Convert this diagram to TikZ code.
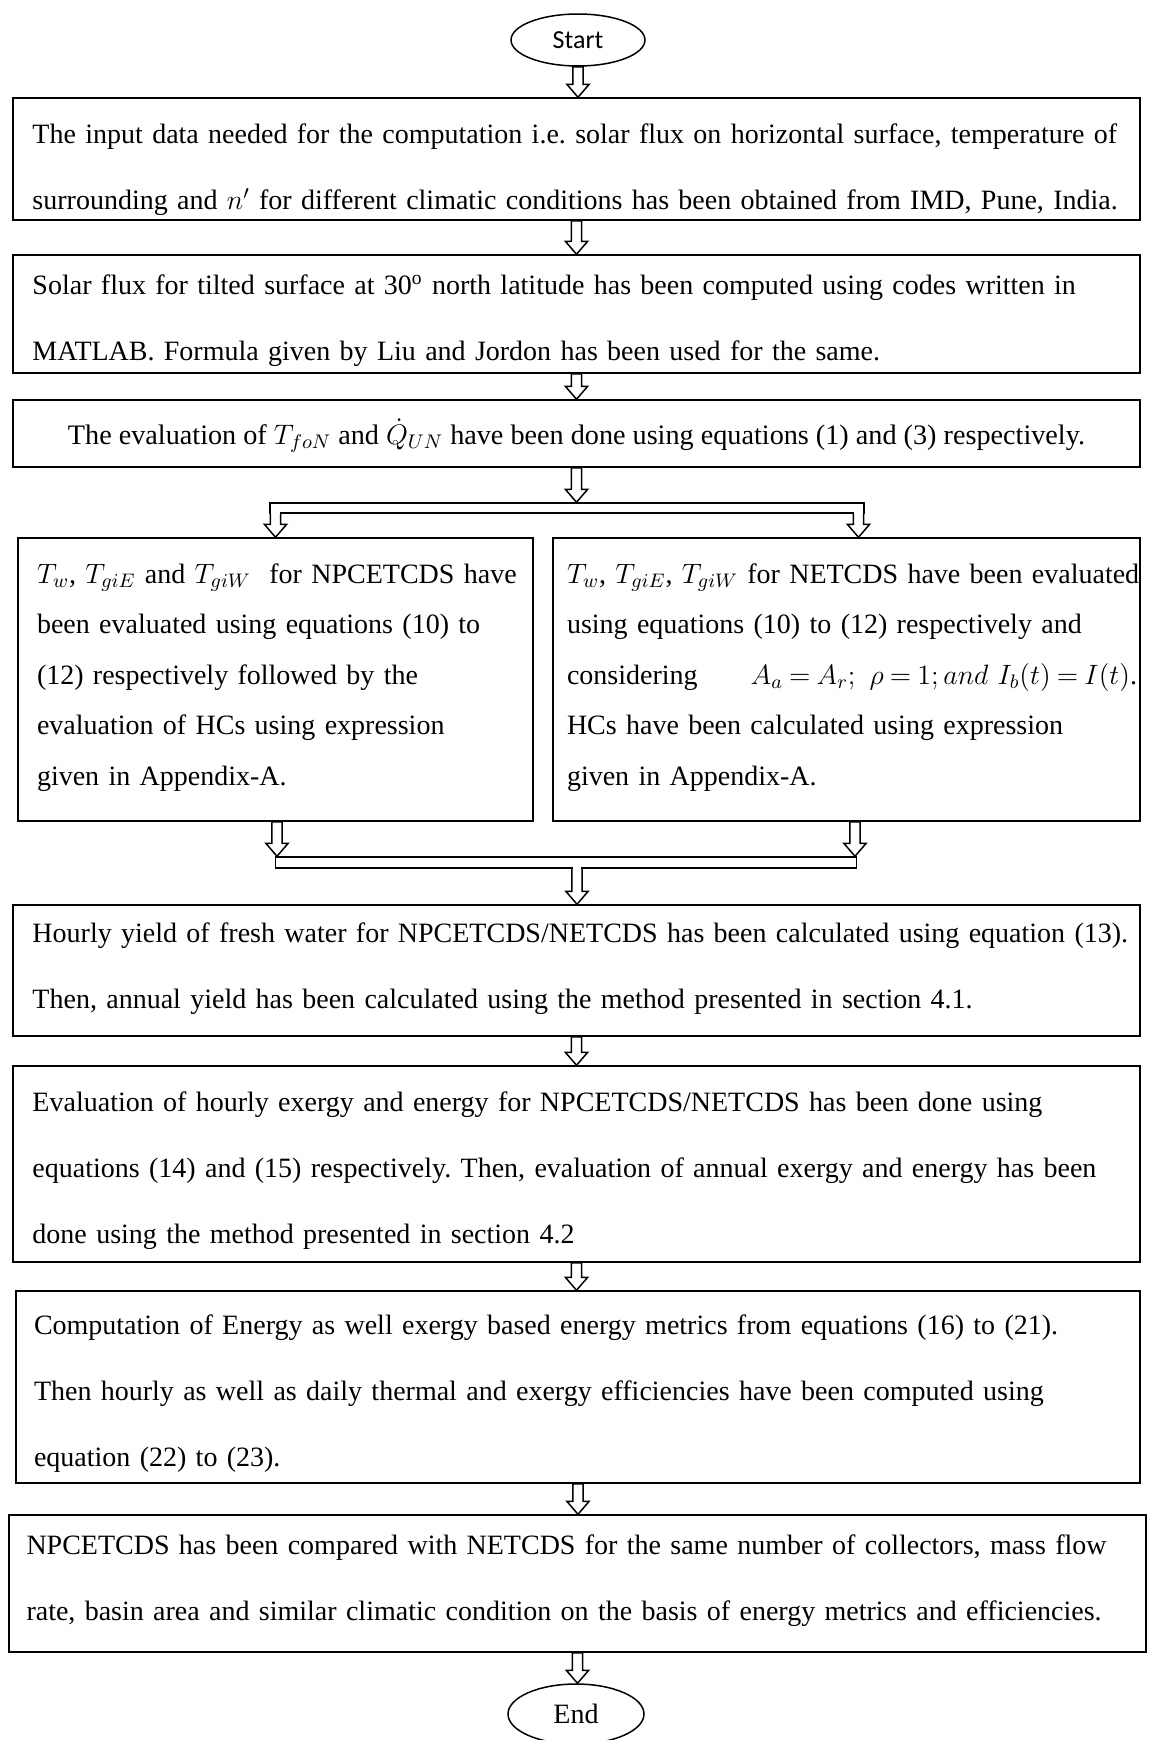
\RequirePackage{fix-cm}
\documentclass[tikz,border=0pt]{standalone}
\usepackage{fontspec}
\setmainfont{Liberation Serif}
\newfontfamily\startfont{Carlito}
\usetikzlibrary{shapes.geometric,calc}
\frenchspacing
\tikzset{
  frame/.style={draw, line width=0.75pt, fill=white, inner sep=0pt},
  txt/.style={inner sep=0pt, align=left, font=\fontsize{14}{33}\selectfont},
  sidetxt/.style={txt, font=\fontsize{14}{25.25}\selectfont},
  oval/.style={ellipse, draw, line width=0.75pt, inner sep=0pt, fill=white},
  arrline/.style={line width=0.75pt, line join=miter},
}
\newcommand\blockarr[2]{%
  \filldraw[arrline, fill=white] let \p1=(#1),\p2=(#2) in
    (\x1-2.6pt,\y1) -- (\x1-2.6pt,\y2+6.5pt) -- (\x1-5.6pt,\y2+6.5pt) -- (\x1,\y2)
    -- (\x1+5.6pt,\y2+6.5pt) -- (\x1+2.6pt,\y2+6.5pt) -- (\x1+2.6pt,\y1) -- cycle;}
\newcommand\blockarrb[2]{%
  \fill[white] let \p1=(#1),\p2=(#2) in
    (\x1-2.2pt,\y1+1pt) -- (\x1-2.2pt,\y2+6.5pt) -- (\x1+2.2pt,\y2+6.5pt) -- (\x1+2.2pt,\y1+1pt) -- cycle;
  \draw[arrline] let \p1=(#1),\p2=(#2) in
    (\x1-2.6pt,\y1) -- (\x1-2.6pt,\y2+6.5pt) -- (\x1-5.6pt,\y2+6.5pt) -- (\x1,\y2)
    -- (\x1+5.6pt,\y2+6.5pt) -- (\x1+2.6pt,\y2+6.5pt) -- (\x1+2.6pt,\y1);}
\begin{document}
\begin{tikzpicture}[x=0.5pt,y=-0.5pt]
\useasboundingbox[fill=white] (0,0) rectangle (1150,1740);

\node[oval, minimum width=67pt, minimum height=26pt, font=\startfont\fontsize{13}{15}\selectfont] (st) at (578,40) {Start};

% box 1
\node[frame, minimum width=563.5pt, minimum height=61pt] (b1) at (576.5,159) {};
\node[txt, text width=544pt] (t1) at ($(b1.center)+(0,10.5)$)
 {\makebox[544pt][s]{The input data needed for the computation i.e. solar flux on horizontal surface, temperature of}\\
  \makebox[544pt][s]{surrounding and $n'$ for different climatic conditions has been obtained from IMD, Pune, India.}};

% box 2
\node[frame, minimum width=563.5pt, minimum height=59pt] (b2) at (576.5,314) {};
\node[txt, text width=544pt] (t2) at ($(b2.center)+(0,6.5)$)
 {\makebox[544pt][s]{Solar flux for tilted surface at 30\textsuperscript{o} north latitude has been computed using codes written in}\\
  MATLAB. Formula given by Liu and Jordon has been used for the same.};

% box 3
\node[frame, minimum width=563.5pt, minimum height=33.5pt] (b3) at (576.5,433.5) {};
\node[txt, align=center, font=\fontsize{14.1}{20}\selectfont] (t3) at ($(b3.center)+(0,2)$)
 {The evaluation of $T_{foN}$ and $\dot{Q}_{UN}$ have been done using equations (1) and (3) respectively.};

% split bar
\node[frame, minimum width=297pt, minimum height=5pt] (sbar) at (567,508) {};
\coordinate (sl) at (275.5,508);
\coordinate (sr) at (858.5,508);

% left box
\node[frame, minimum width=257.5pt, minimum height=141.5pt] (lb) at (275.5,679.5) {};
\node[sidetxt, text width=239.5pt] (tl) at (276.5,677.5)
 {\makebox[239.5pt][s]{$T_w$, $T_{giE}$ and $T_{giW}$\ \ for NPCETCDS have}\\
  \makebox[239.5pt][s]{been evaluated using equations (10) to}\\
  \makebox[239.5pt][s]{(12) respectively followed by the}\\
  \makebox[239.5pt][s]{evaluation of HCs using expression}\\
  given in Appendix-A.};

% right box
\node[frame, minimum width=293.5pt, minimum height=141.5pt] (rb) at (846.5,679.5) {};
\node[sidetxt, text width=285pt] (tr) at (852,677.5)
 {\makebox[285pt][s]{$T_w$, $T_{giE}$, $T_{giW}$ for NETCDS have been evaluated}\\
  \makebox[285pt][s]{using equations (10) to (12) respectively and}\\
  \makebox[285pt][s]{considering\hfill{\thickmuskip=4mu $A_a=A_r;\ \rho=1;and\ I_b(t)=I(t)$}.}\\
  \makebox[285pt][s]{HCs have been calculated using expression}\\
  given in Appendix-A.};

% merge bar
\node[frame, minimum width=290.5pt, minimum height=5.5pt] (mbar) at (566,862.5) {};
\coordinate (ml) at (277,862);
\coordinate (mr) at (855,862);
\coordinate (mc) at (577,862);

% box 4
\node[frame, minimum width=563.5pt, minimum height=65.5pt] (b4) at (576.5,970.5) {};
\node[txt, text width=544pt] (t4) at ($(b4.center)+(0,-1.5)$)
 {\makebox[544pt][s]{Hourly yield of fresh water for NPCETCDS/NETCDS has been calculated using equation (13).}\\
  Then, annual yield has been calculated using the method presented in section 4.1.};

% box 5
\node[frame, minimum width=563.5pt, minimum height=98pt] (b5) at (576.5,1164) {};
\node[txt, text width=544pt] (t5) at ($(b5.center)+(0,7)$)
 {\makebox[544pt][s]{Evaluation of hourly exergy and energy for NPCETCDS/NETCDS has been done using}\\
  \makebox[544pt][s]{equations (14) and (15) respectively. Then, evaluation of annual exergy and energy has been}\\
  done using the method presented in section 4.2};

% box 6
\node[frame, minimum width=562pt, minimum height=96pt] (b6) at (578,1387) {};
\node[txt, text width=544pt] (t6) at ($(b6.center)+(0,6.5)$)
 {\makebox[544pt][s]{Computation of Energy as well exergy based energy metrics from equations (16) to (21).}\\
  \makebox[544pt][s]{Then hourly as well as daily thermal and exergy efficiencies have been computed using}\\
  equation (22) to (23).};

% box 7
\node[frame, minimum width=568.5pt, minimum height=68.5pt] (b7) at (577.5,1583.5) {};
\node[txt, text width=546pt] (t7) at ($(b7.center)+(-5,-2.7)$)
 {\makebox[546pt][s]{NPCETCDS has been compared with NETCDS for the same number of collectors, mass flow}\\
  \mbox{rate, basin area and similar climatic condition on the basis of energy metrics and efficiencies.}};

\node[oval, minimum width=68pt, minimum height=30pt, font=\fontsize{14}{16}\selectfont] (en) at (576,1714) {End};

% connectors
\blockarr{st.south}{b1.north}
\blockarr{b1.south}{b2.north}
\blockarr{b2.south}{b3.north}
\blockarr{b3.south}{sbar.north -| b3.south}
\blockarrb{sbar.south -| sl}{lb.north -| sl}
\blockarrb{sbar.south -| sr}{rb.north -| sr}
\blockarr{lb.south -| ml}{mbar.north -| ml}
\blockarr{rb.south -| mr}{mbar.north -| mr}
\blockarrb{mbar.south -| mc}{b4.north -| mc}
\blockarr{b4.south}{b5.north}
\blockarr{b5.south}{b6.north}
\blockarr{b6.south}{b7.north}
\blockarr{b7.south}{en.north}
\end{tikzpicture}
\end{document}
